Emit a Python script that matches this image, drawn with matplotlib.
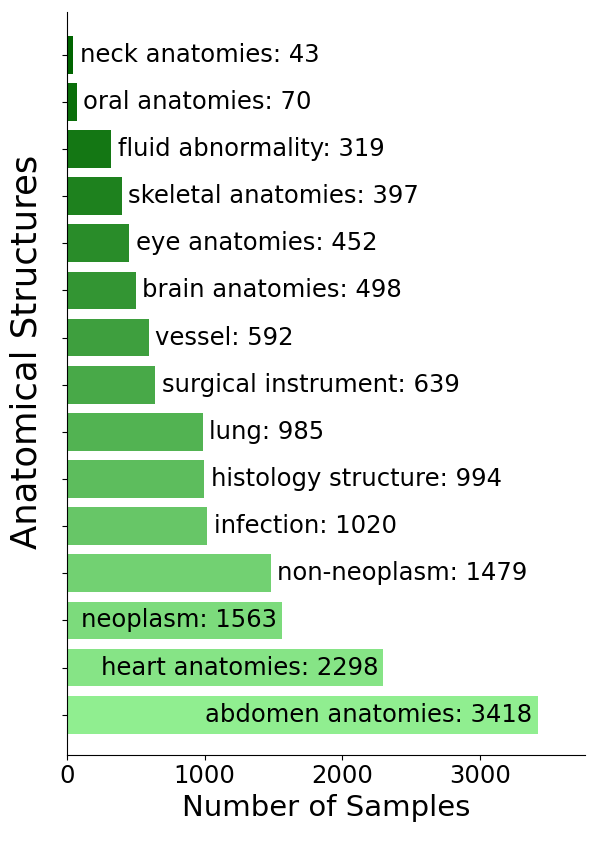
import matplotlib.pyplot as plt
import numpy as np
from matplotlib.colors import LinearSegmentedColormap

plt.rcParams['font.family'] = ['DejaVu Sans']

categories = ['neck anatomies', 'oral anatomies', 'fluid abnormality', 'skeletal anatomies',
              'eye anatomies', 'brain anatomies', 'vessel', 'surgical instrument', 'lung',
              'histology structure', 'infection', 'non-neoplasm', 'neoplasm',
              'heart anatomies', 'abdomen anatomies']
counts = [43, 70, 319, 397, 452, 498, 592, 639, 985, 994, 1020, 1479, 1563, 2298, 3418]
inside = [False] * 12 + [True] * 3


def plot_data():
    cmap = LinearSegmentedColormap.from_list('greens', ['#006400', '#90ee90'])
    colors = [cmap(i / (len(counts) - 1)) for i in range(len(counts))]
    y = np.arange(len(counts))

    fig = plt.figure(figsize=(5.98, 8.48), dpi=100)
    ax = fig.add_axes([0.112, 0.110, 0.866, 0.876])
    ax.barh(y, counts, height=0.8, color=colors)

    xmax = max(counts) * 1.1
    for yi, (name, c, ins) in enumerate(zip(categories, counts, inside)):
        label = f'{name}: {c}'
        if ins:
            ax.text(c - xmax * 0.01, yi, label, ha='right', va='center', fontsize=17.5)
        else:
            ax.text(c + xmax * 0.013, yi, label, ha='left', va='center', fontsize=17.5)

    ax.set_xlim(0, xmax)
    ax.set_ylim(len(counts) - 0.15, -0.91)
    ax.set_yticks(y)
    ax.set_yticklabels([])
    ax.set_xticks([0, 1000, 2000, 3000])
    ax.tick_params(axis='x', labelsize=17.5)
    ax.spines['top'].set_visible(False)
    ax.spines['right'].set_visible(False)
    ax.set_xlabel('Number of Samples', fontsize=21)
    ax.set_ylabel('Anatomical Structures', fontsize=25.5)
    ax.yaxis.set_label_coords(-0.046, 0.542)

    fig.savefig('out.png', dpi=100)
    plt.close(fig)


if __name__ == '__main__':
    plot_data()
